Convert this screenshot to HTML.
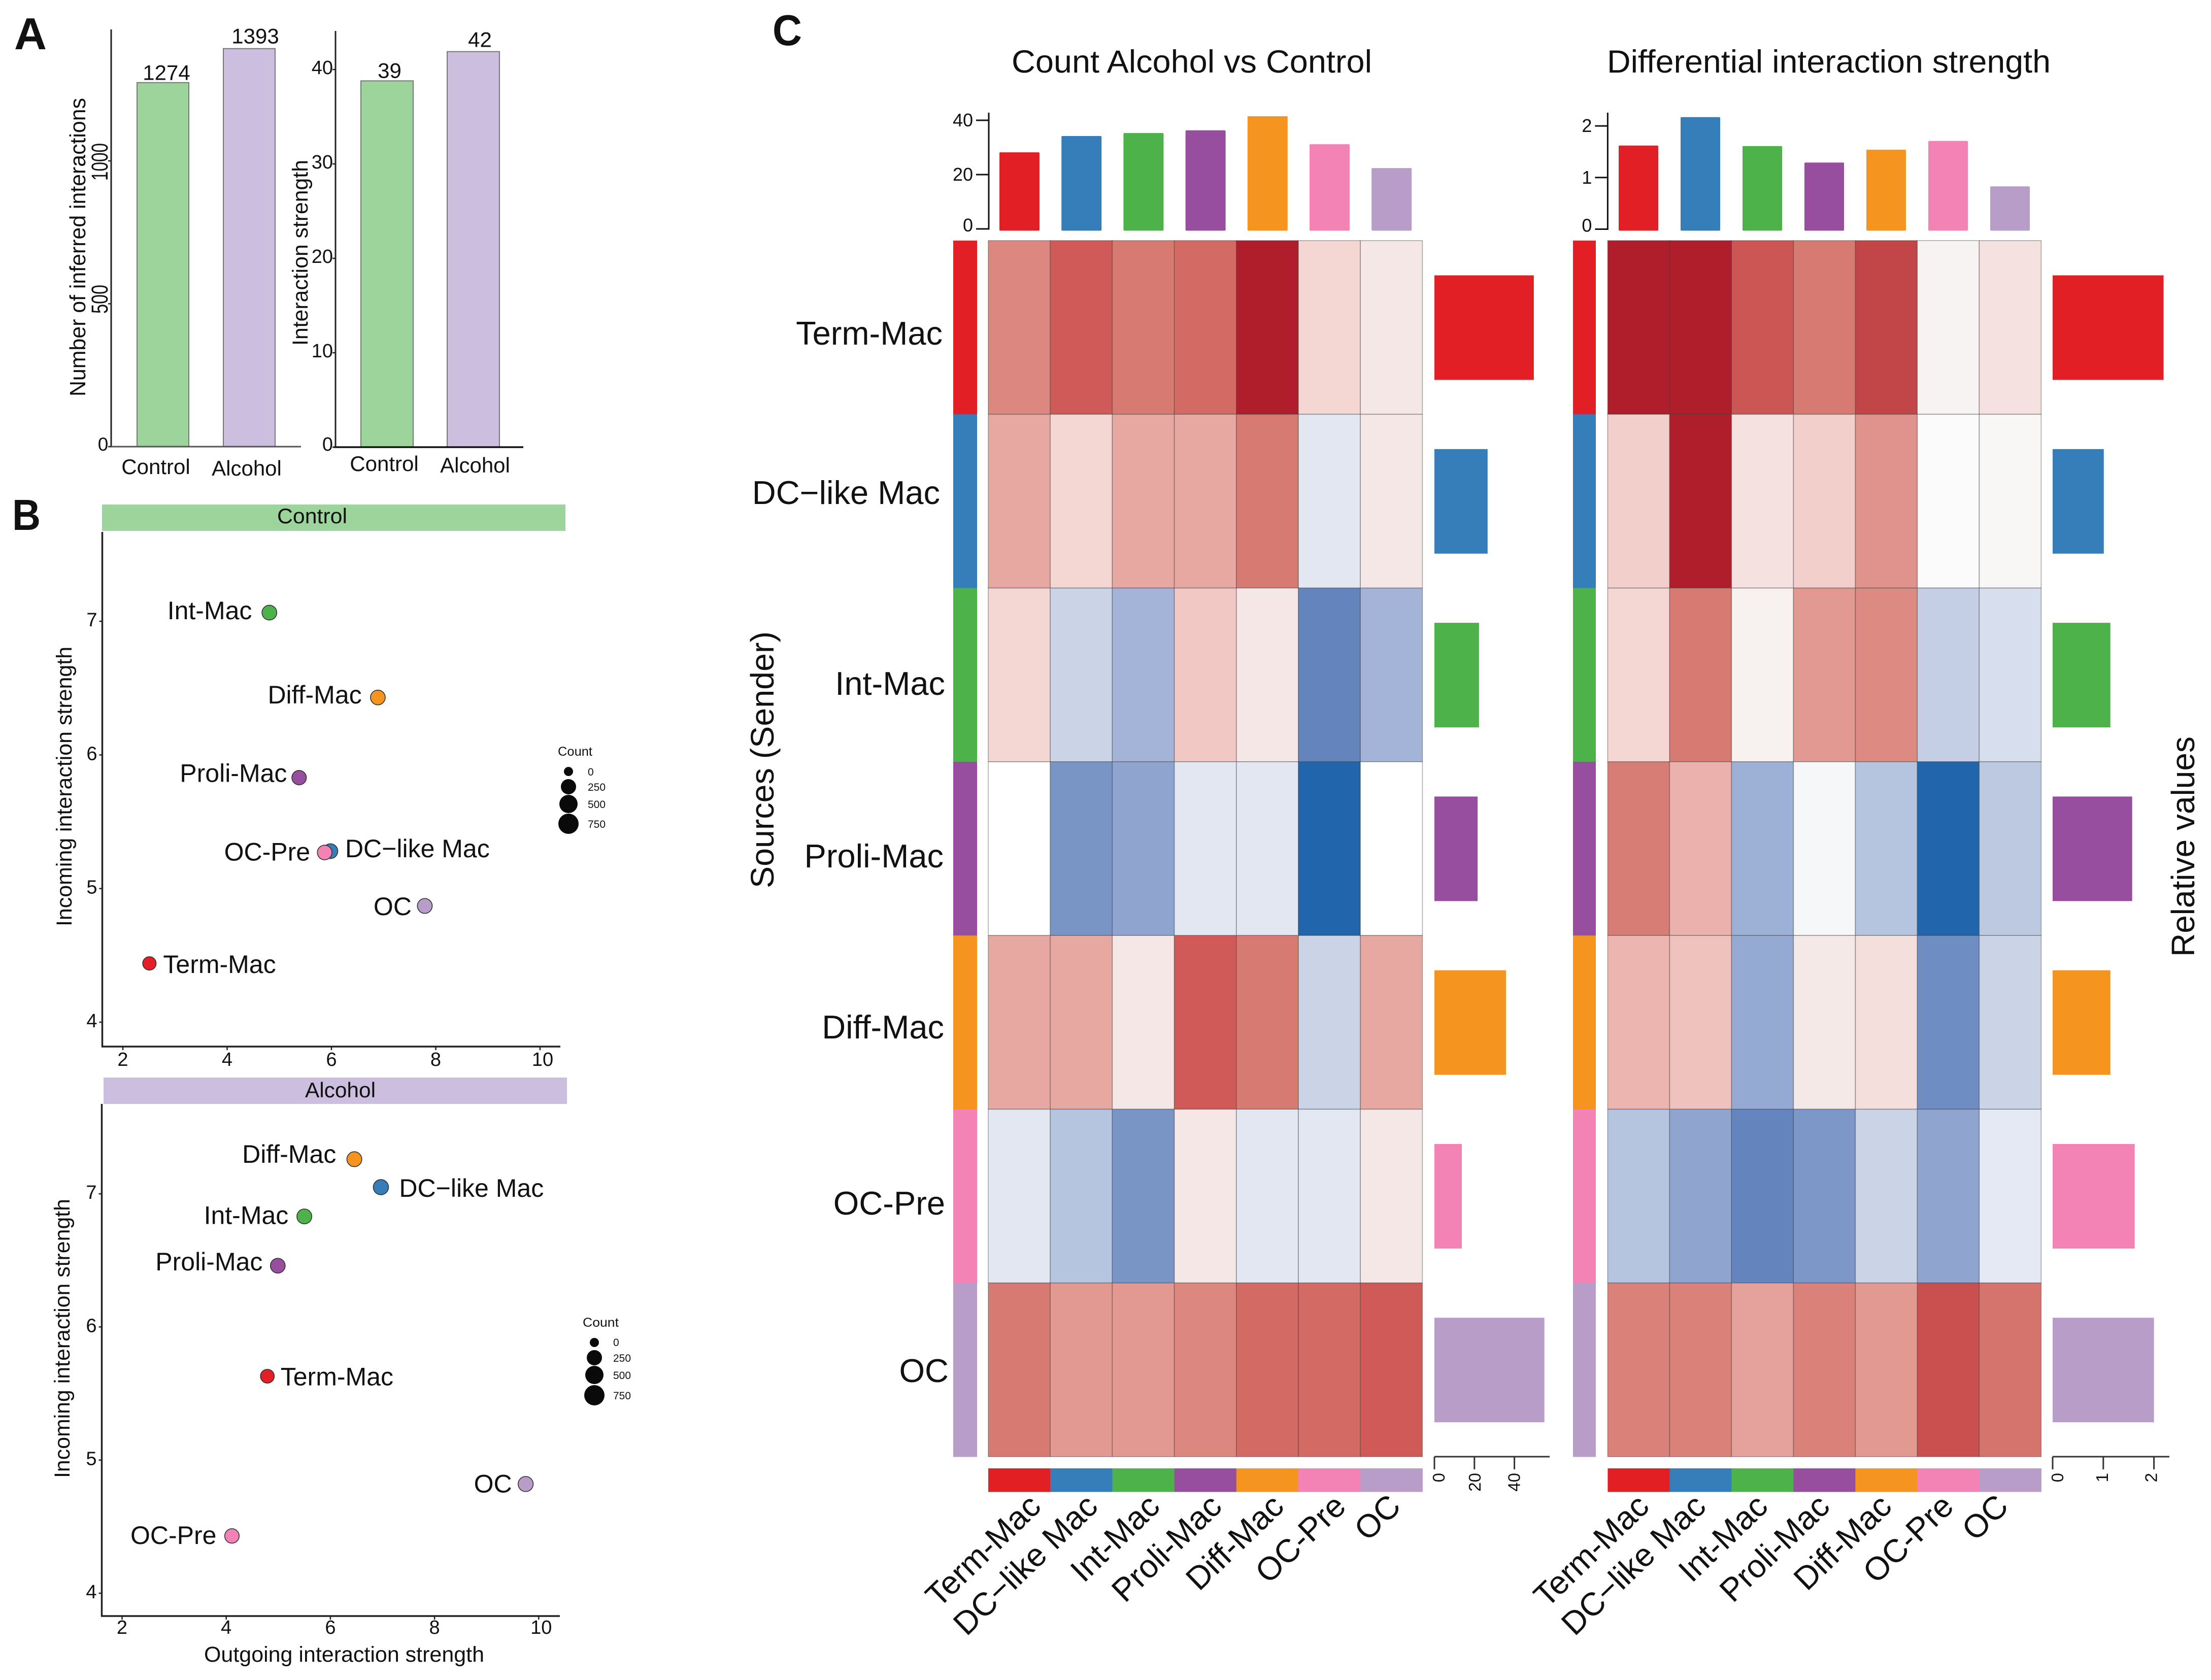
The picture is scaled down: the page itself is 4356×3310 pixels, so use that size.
<!DOCTYPE html>
<html lang="en">
<head>
<meta charset="utf-8">
<title>Cell interaction figure</title>
<style>
html,body{margin:0;padding:0;background:#fff;}
svg{display:block;font-family:"Liberation Sans",Arial,sans-serif;fill:#111;}
text{fill:#111;}
</style>
</head>
<body>
<svg id="figure" xmlns="http://www.w3.org/2000/svg" width="4356" height="3310" viewBox="0 0 4356 3310">
  <rect x="0" y="0" width="4356" height="3310" style="fill:#fff"/>
  <text x="28" y="97" font-size="88" font-weight="bold" textLength="64" lengthAdjust="spacingAndGlyphs">A</text>
  <text x="24" y="1044" font-size="85" font-weight="bold" textLength="56" lengthAdjust="spacingAndGlyphs">B</text>
  <text x="1522" y="89" font-size="85" font-weight="bold" textLength="58" lengthAdjust="spacingAndGlyphs">C</text>

  <g id="panelA">
    <line x1="219" y1="58" x2="219" y2="881" stroke="#222" stroke-width="3"/>
    <text transform="rotate(-90 168 781)" x="168" y="781" font-size="44" textLength="588" lengthAdjust="spacingAndGlyphs">Number of inferred interactions</text>
    <line x1="661" y1="61" x2="661" y2="881" stroke="#222" stroke-width="3"/>
    <text transform="rotate(-90 606 681)" x="606" y="681" font-size="43" textLength="366" lengthAdjust="spacingAndGlyphs">Interaction strength</text>
  </g>

  <g id="panelB">
    <rect x="201" y="994" width="913" height="52" style="fill:#9DD49B"/>
    <text x="546" y="1031" font-size="42" textLength="138" lengthAdjust="spacingAndGlyphs">Control</text>
    <line x1="201.5" y1="1048" x2="201.5" y2="2063" stroke="#222" stroke-width="3.5"/>
    <line x1="200" y1="2062" x2="1104" y2="2062" stroke="#222" stroke-width="3.5"/>
    <text transform="rotate(-90 141 1825)" x="141" y="1825" font-size="43" textLength="551" lengthAdjust="spacingAndGlyphs">Incoming interaction strength</text>

    <rect x="204" y="2123" width="913" height="52" style="fill:#CBBEDF"/>
    <text x="601" y="2162" font-size="42" textLength="139" lengthAdjust="spacingAndGlyphs">Alcohol</text>
    <line x1="200.5" y1="2175" x2="200.5" y2="3185" stroke="#222" stroke-width="3.5"/>
    <line x1="199" y1="3184" x2="1103" y2="3184" stroke="#222" stroke-width="3.5"/>
    <text transform="rotate(-90 137 2912)" x="137" y="2912" font-size="43" textLength="550" lengthAdjust="spacingAndGlyphs">Incoming interaction strength</text>
    <text x="402" y="3274" font-size="43" textLength="552" lengthAdjust="spacingAndGlyphs">Outgoing interaction strength</text>

    <g>
      <text x="1099" y="1489" font-size="25" textLength="68" lengthAdjust="spacingAndGlyphs">Count</text>
      <circle cx="1120" cy="1520" r="9" style="fill:#0a0a0a"/>
      <circle cx="1120" cy="1550" r="15" style="fill:#0a0a0a"/>
      <circle cx="1120" cy="1584" r="18" style="fill:#0a0a0a"/>
      <circle cx="1120" cy="1623" r="20" style="fill:#0a0a0a"/>
      <text x="1158" y="1528" font-size="21">0</text>
      <text x="1158" y="1558" font-size="21">250</text>
      <text x="1158" y="1592" font-size="21">500</text>
      <text x="1158" y="1631" font-size="21">750</text>
    </g>
    <g>
      <text x="1148" y="2614" font-size="25" textLength="71" lengthAdjust="spacingAndGlyphs">Count</text>
      <circle cx="1171" cy="2645" r="9" style="fill:#0a0a0a"/>
      <circle cx="1171" cy="2675" r="15" style="fill:#0a0a0a"/>
      <circle cx="1171" cy="2709" r="18" style="fill:#0a0a0a"/>
      <circle cx="1171" cy="2749" r="20" style="fill:#0a0a0a"/>
      <text x="1208" y="2652" font-size="21">0</text>
      <text x="1208" y="2683" font-size="21">250</text>
      <text x="1208" y="2717" font-size="21">500</text>
      <text x="1208" y="2757" font-size="21">750</text>
    </g>
  </g>

  <g id="panelC">
    <text x="1993" y="143" font-size="63" textLength="710" lengthAdjust="spacingAndGlyphs">Count Alcohol vs Control</text>
    <text x="3166" y="143" font-size="63" textLength="874" lengthAdjust="spacingAndGlyphs">Differential interaction strength</text>
    <text transform="rotate(-90 1524 1750)" x="1524" y="1750" font-size="64" textLength="506" lengthAdjust="spacingAndGlyphs">Sources (Sender)</text>
    <text transform="rotate(-90 4323 1885)" x="4323" y="1885" font-size="64" textLength="434" lengthAdjust="spacingAndGlyphs">Relative values</text>
    <text x="1857" y="679" font-size="65" text-anchor="end">Term-Mac</text>
    <text x="1852" y="993" font-size="65" text-anchor="end">DC−like Mac</text>
    <text x="1862" y="1369" font-size="65" text-anchor="end">Int-Mac</text>
    <text x="1859" y="1709" font-size="65" text-anchor="end">Proli-Mac</text>
    <text x="1860" y="2046" font-size="65" text-anchor="end">Diff-Mac</text>
    <text x="1862" y="2393" font-size="65" text-anchor="end">OC-Pre</text>
    <text x="1869" y="2723" font-size="65" text-anchor="end">OC</text>
  </g>
</svg>

<script>
/* ---------- Panel A data ---------- */
const groupNames = ['Control', 'Alcohol'];
const interactionCounts = [1274, 1393];
const interactionStrengths = [38.8, 41.9];
const countPrinted = ['1274', '1393'];
const strengthPrinted = ['39', '42'];
const countTicks = [0, 500, 1000];
const strengthTicks = [0, 10, 20, 30, 40];

/* ---------- Panel B data ---------- */
const cellTypes = ['Term-Mac', 'DC−like Mac', 'Int-Mac', 'Proli-Mac', 'Diff-Mac', 'OC-Pre', 'OC'];
const cellColors = ['#E31F26', '#357EBA', '#4EB24A', '#984E9E', '#F5951F', '#F382B5', '#B99DC9'];
const controlOutgoing = [2.51, 5.98, 4.81, 5.38, 6.89, 5.87, 7.79];
const controlIncoming = [4.44, 5.28, 7.065, 5.83, 6.43, 5.27, 4.87];
const controlCounts = [110, 190, 190, 170, 190, 180, 195];
const alcoholOutgoing = [4.79, 6.97, 5.50, 4.99, 6.46, 4.11, 9.75];
const alcoholIncoming = [5.63, 7.05, 6.83, 6.46, 7.26, 4.43, 4.82];
const alcoholCounts = [130, 220, 200, 190, 200, 170, 210];
const scatterXTicks = [2, 4, 6, 8, 10];
const scatterYTicks = [4, 5, 6, 7];

/* ---------- Panel C data ---------- */
const countColumnTotals = [28.2, 34.2, 35.3, 36.3, 41.5, 31.2, 22.4];
const countRowTotals = [49.7, 26.6, 22.3, 21.6, 35.8, 13.7, 55];
const countTopTicks = [0, 20, 40];
const countSideTicks = [0, 20, 40];
const countMatrixRow1 = [0.52, 0.70, 0.60, 0.65, 1.00, 0.20, 0.10];
const countMatrixRow2 = [0.40, 0.20, 0.40, 0.40, 0.60, -0.10, 0.10];
const countMatrixRow3 = [0.20, -0.20, -0.40, 0.27, 0.10, -0.70, -0.40];
const countMatrixRow4 = [0.00, -0.60, -0.50, -0.10, -0.10, -1.00, 0.00];
const countMatrixRow5 = [0.40, 0.40, 0.10, 0.70, 0.60, -0.20, 0.40];
const countMatrixRow6 = [-0.10, -0.30, -0.60, 0.10, -0.10, -0.10, 0.10];
const countMatrixRow7 = [0.60, 0.45, 0.45, 0.52, 0.65, 0.65, 0.70];

const strengthColumnTotals = [1.62, 2.17, 1.61, 1.29, 1.54, 1.71, 0.83];
const strengthRowTotals = [2.19, 1.01, 1.14, 1.57, 1.14, 1.62, 2.0];
const strengthTopTicks = [0, 1, 2];
const strengthSideTicks = [0, 1, 2];
const strengthMatrixRow1 = [1.00, 1.00, 0.72, 0.60, 0.80, 0.04, 0.13];
const strengthMatrixRow2 = [0.24, 1.00, 0.13, 0.24, 0.47, -0.01, 0.02];
const strengthMatrixRow3 = [0.20, 0.60, 0.05, 0.45, 0.50, -0.23, -0.15];
const strengthMatrixRow4 = [0.58, 0.36, -0.43, -0.02, -0.30, -1.00, -0.27];
const strengthMatrixRow5 = [0.35, 0.30, -0.47, 0.09, 0.15, -0.65, -0.20];
const strengthMatrixRow6 = [-0.30, -0.50, -0.70, -0.58, -0.20, -0.50, -0.09];
const strengthMatrixRow7 = [0.55, 0.55, 0.42, 0.55, 0.45, 0.75, 0.62];

/* ---------- Helpers ---------- */
const NS = 'http://www.w3.org/2000/svg';
const panelA = document.getElementById('panelA');
const panelB = document.getElementById('panelB');
const panelC = document.getElementById('panelC');

function addRect(parent, x, y, w, h, fill, rx) {
  const el = document.createElementNS(NS, 'rect');
  el.setAttribute('x', x);
  el.setAttribute('y', y);
  el.setAttribute('width', w);
  el.setAttribute('height', h);
  el.style.fill = fill;
  if (rx) el.setAttribute('rx', rx);
  parent.appendChild(el);
  return el;
}
function addLine(parent, x1, y1, x2, y2, color, width) {
  const el = document.createElementNS(NS, 'line');
  el.setAttribute('x1', x1);
  el.setAttribute('y1', y1);
  el.setAttribute('x2', x2);
  el.setAttribute('y2', y2);
  el.setAttribute('stroke', color);
  el.setAttribute('stroke-width', width);
  parent.appendChild(el);
  return el;
}
function addText(parent, str, x, y, size, anchor, rotate, length) {
  const el = document.createElementNS(NS, 'text');
  el.textContent = str;
  el.setAttribute('x', x);
  el.setAttribute('y', y);
  el.setAttribute('font-size', size);
  if (anchor) el.setAttribute('text-anchor', anchor);
  if (rotate) el.setAttribute('transform', 'rotate(' + rotate + ' ' + x + ' ' + y + ')');
  if (length) {
    el.setAttribute('textLength', length);
    el.setAttribute('lengthAdjust', 'spacingAndGlyphs');
  }
  parent.appendChild(el);
  return el;
}
function slug(s) {
  return s.toLowerCase().replace(/[^a-z0-9]+/g, '-');
}

/* ---------- Panel A ---------- */
const countY = v => 880 - v * 0.563;
const strengthY = v => 881 - v * 18.6;
const groupFills = ['#9DD49B', '#CBBEDF'];
const groupBorder = '#777';

function drawGroupBars(prefix, values, printed, yFn, x0, width, labelNudgeX, labelNudgeY, catCenters, catBaselines) {
  values.forEach((v, i) => {
    const x = x0 + i * 170;
    const top = yFn(v);
    const bar = addRect(panelA, x, top, width, yFn(0) - top, groupFills[i]);
    bar.setAttribute('stroke', groupBorder);
    bar.setAttribute('stroke-width', 2);
    
    
    const lab = addText(panelA, printed[i], x + width / 2 + labelNudgeX[i], top - labelNudgeY[i], 42, 'middle');
    
    
    const cat = addText(panelA, groupNames[i], catCenters[i], catBaselines[i], 42, 'middle');
    
    
  });
}
drawGroupBars('count', interactionCounts, countPrinted, countY, 270, 102, [7, 12], [5, 10], [307, 486], [934, 937]);
drawGroupBars('strength', interactionStrengths, strengthPrinted, strengthY, 711, 103, [5, 13], [6, 9], [757, 936], [928, 931]);

const countBaseline = addLine(panelA, 217, 880, 593, 880, '#555', 3);


const strengthBaseline = addLine(panelA, 657, 881, 1031, 881, '#111', 3.5);



countTicks.forEach(v => {
  const y = countY(v);
  const tick = addLine(panelA, 213, y, 219, y, '#222', 2.5);
  
  
  const lab = v === 0
    ? addText(panelA, String(v), 203, y + 8, 37, 'middle')
    : addText(panelA, String(v), 212, y + (v >= 1000 ? 2 : -9), 45, 'middle', -90, v >= 1000 ? 74 : 57);
  
  
});
strengthTicks.forEach(v => {
  const y = strengthY(v);
  const tick = addLine(panelA, 655, y, 661, y, '#222', 2.5);
  
  
  const lab = addText(panelA, String(v), 656, y + (v === 0 ? 7 : 9), 38, 'end');
  
  
});

/* ---------- Panel B ---------- */
const sizeScale = c => 9 + 11 * Math.sqrt(c / 750);
const controlX = v => 242 + (v - 2) * 102.75;
const controlY = v => 2014 - (v - 4) * 263.3;
const alcoholX = v => 240.5 + (v - 2) * 102.6;
const alcoholY = v => 3139 - (v - 4) * 262.3;
/* label placement relative to each marker (layout, not data) */
const controlLabelDx = [27, 29, -201, -235, -217, -198, -101];
const controlLabelDy = [19, 12, 13, 8.5, 12, 16, 18];
const alcoholLabelDx = [26, 36, -198, -241, -221, -200, -102];
const alcoholLabelDy = [18, 19, 15, 9.5, 7, 16, 16.5];

function drawScatter(prefix, xs, ys, counts, xFn, yFn, axisY, axisX, labelDx, labelDy, xLabelY) {
  scatterXTicks.forEach(v => {
    const tx = xFn(v);
    const tick = addLine(panelB, tx, axisY, tx, axisY + 7, '#222', 2.5);
    
    
    const lab = addText(panelB, String(v), tx + (v >= 10 ? 5 : 0), xLabelY, 38, 'middle');
    
    
  });
  scatterYTicks.forEach(v => {
    const ty = yFn(v);
    const tick = addLine(panelB, axisX - 6, ty, axisX, ty, '#222', 2.5);
    
    
    const lab = addText(panelB, String(v), axisX - 10, ty + 10, 38, 'end');
    
    
  });
  xs.forEach((v, i) => {
    const cx = xFn(v);
    const cy = yFn(ys[i]);
    const dot = document.createElementNS(NS, 'circle');
    dot.setAttribute('cx', cx);
    dot.setAttribute('cy', cy);
    dot.setAttribute('r', sizeScale(counts[i]));
    dot.style.fill = cellColors[i];
    dot.setAttribute('stroke', '#333');
    dot.setAttribute('stroke-width', 1.6);
    
    
    panelB.appendChild(dot);
    const lab = addText(panelB, cellTypes[i], cx + labelDx[i], cy + labelDy[i], 50);
    
    
  });
}
drawScatter('control', controlOutgoing, controlIncoming, controlCounts, controlX, controlY, 2062, 201.5, controlLabelDx, controlLabelDy, 2100);
drawScatter('alcohol', alcoholOutgoing, alcoholIncoming, alcoholCounts, alcoholX, alcoholY, 3184, 200.5, alcoholLabelDx, alcoholLabelDy, 3219);

/* ---------- Panel C ---------- */
const colorStops = [
  [-1.0, 0x21, 0x66, 0xAC], [-0.8, 0x56, 0x79, 0xB5], [-0.7, 0x64, 0x84, 0xBE], [-0.6, 0x79, 0x95, 0xC6],
  [-0.5, 0x8F, 0xA5, 0xD0], [-0.4, 0xA3, 0xB4, 0xD8], [-0.3, 0xB5, 0xC4, 0xDF], [-0.2, 0xCB, 0xD4, 0xE7],
  [-0.1, 0xE3, 0xE7, 0xF2], [-0.02, 0xF6, 0xF7, 0xF9], [0, 0xFF, 0xFF, 0xFF], [0.02, 0xF8, 0xF7, 0xF6],
  [0.1, 0xF5, 0xE7, 0xE6], [0.2, 0xF4, 0xD7, 0xD2],
  [0.3, 0xF0, 0xC2, 0xBE], [0.4, 0xE7, 0xA8, 0xA2], [0.5, 0xDD, 0x8A, 0x82], [0.6, 0xD7, 0x7A, 0x72],
  [0.7, 0xCF, 0x5A, 0x57], [0.8, 0xC2, 0x45, 0x47], [1.0, 0xB0, 0x1E, 0x2B]
];
function heatColor(v) {
  const c = Math.max(-1, Math.min(1, v));
  for (let i = 0; i < colorStops.length - 1; i++) {
    const a = colorStops[i];
    const b = colorStops[i + 1];
    if (c <= b[0]) {
      const t = (c - a[0]) / (b[0] - a[0]);
      const mix = k => Math.round(a[k] + (b[k] - a[k]) * t);
      return 'rgb(' + mix(1) + ',' + mix(2) + ',' + mix(3) + ')';
    }
  }
  return '#B01E2B';
}

const ROW_TOP = 474;
const ROW_H = 342.29;
const TOP_AXIS_TOP = 222;
const TOP_BAR_BOTTOM = 454.5;
const SIDE_AXIS_Y = 2870;
const STRIP_TOP = 2893;
const STRIP_H = 46.5;
const SIDE_BAR_INSET = 68.5;
const SIDE_BAR_H = 206;
/* per-column nudge of the rotated labels (layout, not data) */
const columnLabelShift = [10, 0, 0, 0, 0, 0, -14];

function drawHeatmap(cfg) {
  const cw = cfg.cellW;
  cfg.matrix.forEach((row, r) => {
    const sy = ROW_TOP + r * ROW_H;
    const side = addRect(panelC, cfg.sidebarX, sy, cfg.sidebarW, ROW_H + 0.5, cellColors[r]);
    
    
    row.forEach((v, c) => {
      const cell = addRect(panelC, cfg.x0 + c * cw, sy, cw, ROW_H, heatColor(v));
      cell.setAttribute('stroke', 'rgba(60,60,60,0.42)');
      cell.setAttribute('stroke-width', 1.6);
      
      
    });
    const sideBar = addRect(panelC, cfg.sideX(0), sy + SIDE_BAR_INSET, cfg.sideX(cfg.rowTotals[r]) - cfg.sideX(0), SIDE_BAR_H, cellColors[r]);
    
    
  });
  cfg.colTotals.forEach((v, c) => {
    const top = cfg.topY(v);
    const bar = addRect(panelC, cfg.topBarX + c * cfg.topBarStep, top, cfg.topBarW, TOP_BAR_BOTTOM - top, cellColors[c], 2);
    
    
    const strip = addRect(panelC, cfg.x0 + c * cw, STRIP_TOP, cw + 0.5, STRIP_H, cellColors[c]);
    
    
    const cx = cfg.x0 + (c + 0.5) * cw + cfg.labelNudge + columnLabelShift[c];
    const lab = addText(panelC, cellTypes[c], cx, 2972, 64, 'end', -44);
    
    
  });
  const topAxis = addLine(panelC, cfg.topAxisX, TOP_AXIS_TOP, cfg.topAxisX, cfg.topY(0) + 1.5, '#111', 3);
  
  
  cfg.topTicks.forEach(v => {
    const y = cfg.topY(v);
    const tick = addLine(panelC, cfg.topAxisX - 25, y, cfg.topAxisX, y, '#111', 3);
    
    
    const lab = addText(panelC, String(v), cfg.topAxisX - 31, y + (v === 0 ? 5 : 12), 36, 'end');
    
    
  });
  const sideAxis = addLine(panelC, cfg.sideX(0), SIDE_AXIS_Y, cfg.sideAxisEnd, SIDE_AXIS_Y, '#333', 3);
  
  
  cfg.sideTicks.forEach((v, i) => {
    const x = cfg.sideX(v);
    const tick = addLine(panelC, x, SIDE_AXIS_Y, x, SIDE_AXIS_Y + 25, '#333', 3);
    
    
    const lab = addText(panelC, String(v), x + cfg.sideLabelNudge[i] + 11, 2902, 33, 'end', -90);
    
    
  });
}

drawHeatmap({
  prefix: 'count',
  matrix: [countMatrixRow1, countMatrixRow2, countMatrixRow3, countMatrixRow4, countMatrixRow5, countMatrixRow6, countMatrixRow7],
  colTotals: countColumnTotals,
  rowTotals: countRowTotals,
  topTicks: countTopTicks,
  sideTicks: countSideTicks,
  x0: 1947, cellW: 122.2,
  sidebarX: 1878, sidebarW: 47,
  topBarX: 1969, topBarStep: 122.2, topBarW: 79,
  topAxisX: 1948,
  topY: v => 451 - v * 5.35,
  sideX: v => 2826 + v * 3.94,
  sideAxisEnd: 3053,
  sideLabelNudge: [9, 1, 0],
  labelNudge: 36
});
drawHeatmap({
  prefix: 'strength',
  matrix: [strengthMatrixRow1, strengthMatrixRow2, strengthMatrixRow3, strengthMatrixRow4, strengthMatrixRow5, strengthMatrixRow6, strengthMatrixRow7],
  colTotals: strengthColumnTotals,
  rowTotals: strengthRowTotals,
  topTicks: strengthTopTicks,
  sideTicks: strengthSideTicks,
  x0: 3167.4, cellW: 122,
  sidebarX: 3099, sidebarW: 45,
  topBarX: 3189, topBarStep: 122, topBarW: 78,
  topAxisX: 3167.4,
  topY: v => 451.5 - v * 101.7,
  sideX: v => 4044 + v * 99.8,
  sideAxisEnd: 4274,
  sideLabelNudge: [10, -2, -5],
  labelNudge: 14
});
</script>
</body>
</html>
